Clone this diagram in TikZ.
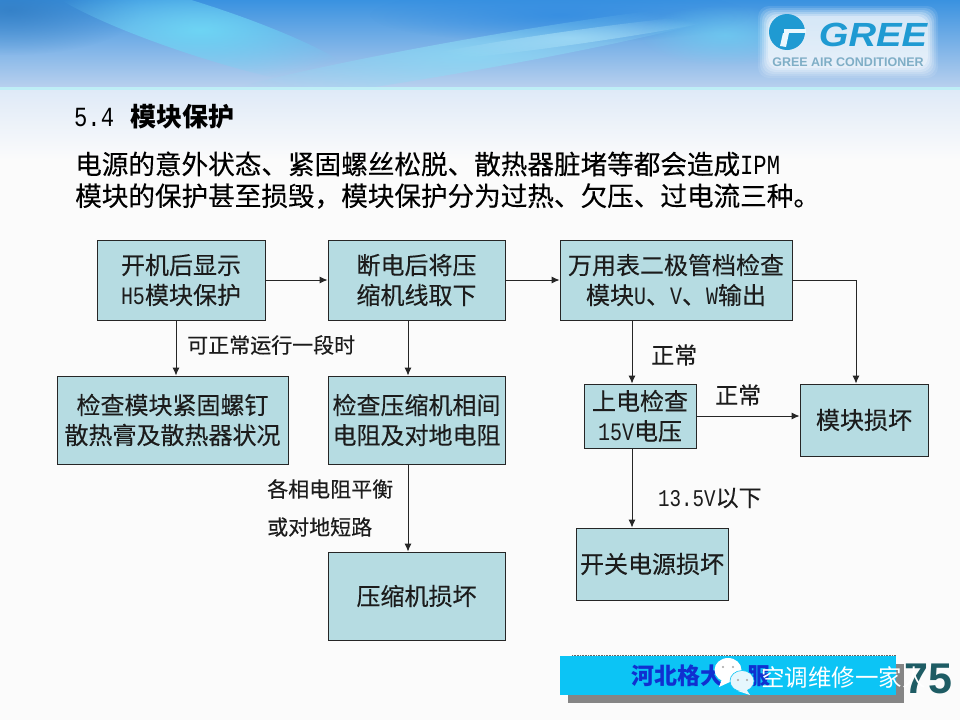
\documentclass[tikz,border=0pt]{standalone}
\usepackage{graphicx}
\usepackage{fontspec}
\setmainfont[FakeBold=0.25]{Noto Sans CJK SC}
\newfontfamily\plainF{Noto Sans CJK SC}
\newfontfamily\monoL[Scale=0.833]{Liberation Mono}
\newfontfamily\arialF{Liberation Sans}
\newcommand{\lat}[1]{\scalebox{1}[1.25]{\monoL #1}}
\usetikzlibrary{arrows.meta,fadings,calc}
\tikzfading[name=softball,inner color=transparent!0,outer color=transparent!100]
\definecolor{boxfill}{HTML}{B6DCE2}
\definecolor{inkc}{HTML}{1C1C1C}
\definecolor{greeblue}{HTML}{1F9AD2}
\definecolor{greegray}{HTML}{7FAEC6}
\definecolor{bannerc}{HTML}{0CC4F5}
\definecolor{sky}{RGB}{58,146,224}
\definecolor{skyb}{RGB}{184,208,238}
\definecolor{skyd}{RGB}{46,120,190}
\definecolor{swa}{RGB}{110,215,245}
\definecolor{swb}{RGB}{140,220,245}
\definecolor{swc}{RGB}{170,225,248}
\definecolor{swe}{RGB}{50,140,225}
\definecolor{lineb}{RGB}{190,238,246}
\definecolor{bluetxt}{RGB}{16,48,208}
\definecolor{numc}{RGB}{30,92,100}
\tikzset{
  x=1pt,y=-1pt,
  flowbox/.style={draw=black!85,line width=0.8pt,fill=boxfill,text=inkc,inner sep=0pt,align=center,font=\fontsize{24}{30}\selectfont},
  arr/.style={draw=black!85,line width=1pt,-{Latex[length=8pt,width=7pt]}},
  lab/.style={anchor=west,inner sep=0pt,text=inkc},
  small/.style={lab,font=\fontsize{21}{25}\selectfont},
  mid/.style={lab,font=\fontsize{23}{28}\selectfont},
  head/.style={anchor=west,inner sep=0pt,text=black,font=\fontsize{26.6}{32}\selectfont},
  swoosh/.style={path fading=softball,fill=#1},
}
\begin{document}
\begin{tikzpicture}
\useasboundingbox (0,0) rectangle (960,720);
% page background
\fill[white!97!gray] (0,0) rectangle (960,720);
\shade[top color=skyb!45,bottom color=white!97!gray] (0,90) rectangle (960,160);
% header band
\shade[top color=sky,bottom color=skyb] (0,0) rectangle (960,87);
\begin{scope}
\clip (0,0) rectangle (960,87);
\fill[swoosh=skyd,opacity=0.7] (10,10) ellipse (130 and 45);
\fill[swoosh=swe,opacity=0.8] (560,15) ellipse (190 and 28);
\fill[swoosh=swa,opacity=0.95,rotate around={-18:(200,30)}] (200,30) ellipse (170 and 26);
\fill[swoosh=swb,opacity=0.75,rotate around={10:(470,55)}] (470,55) ellipse (280 and 16);
\fill[swoosh=swc,opacity=0.7,rotate around={8:(570,38)}] (570,38) ellipse (160 and 7);
\fill[swoosh=swa,opacity=0.6] (725,35) ellipse (85 and 30);
\end{scope}
\fill[lineb] (0,87) rectangle (960,90);
% logo glow
\foreach \g/\op in {0/0.10,2/0.14,4/0.18,6/0.22,8/0.28,10/0.35}{
  \fill[white,opacity=\op,rounded corners=11pt] (758+\g,6+\g) rectangle (938-\g,78-\g);
}
\fill[greeblue] (787,32) circle (18);
\fill[white!92!cyan] (784,29) rectangle (806,33);
\fill[white!92!cyan] (783,33) -- (789,33) -- (786,47) -- (780,46) -- cycle;
\node (gree) [anchor=center,inner sep=0pt,text=greeblue,font=\arialF\bfseries\itshape\fontsize{33.5}{34}\selectfont] at (873,35) {\scalebox{1.14}[1]{GREE}};
\node (greesub) [anchor=center,inner sep=0pt,text=greegray,font=\arialF\bfseries\fontsize{12.5}{14}\selectfont] at (848,62) {GREE AIR CONDITIONER};
% heading
\node (title) [head] at (74,117) {\makebox[56pt][l]{\lat{5.4}}{\plainF\bfseries\fontsize{26}{32}\selectfont 模块保护}};
\node (para1) [head] at (75,164) {电源的意外状态、紧固螺丝松脱、散热器脏堵等都会造成\lat{IPM}};
\node (para2) [head] at (75,196) {模块的保护甚至损毁，模块保护分为过热、欠压、过电流三种。};
% flow boxes
\node (A) [flowbox,minimum width=168pt,minimum height=80pt] at (181,280) {开机后显示\\\lat{H5}模块保护};
\node (B) [flowbox,minimum width=177pt,minimum height=80pt] at (416.5,280) {断电后将压\\缩机线取下};
\node (C) [flowbox,minimum width=232pt,minimum height=80pt] at (676,280) {万用表二极管档检查\\模块\lat{U}、\lat{V}、\lat{W}输出};
\node (D) [flowbox,minimum width=231pt,minimum height=88pt] at (172.5,420) {检查模块紧固螺钉\\散热膏及散热器状况};
\node (E) [flowbox,minimum width=177pt,minimum height=88pt] at (416.5,420) {检查压缩机相间\\电阻及对地电阻};
\node (F) [flowbox,minimum width=112pt,minimum height=64pt] at (640,416) {上电检查\\\lat{15V}电压};
\node (G) [flowbox,minimum width=128pt,minimum height=72pt] at (864,420) {模块损坏};
\node (H) [flowbox,minimum width=177pt,minimum height=88pt] at (416.5,596) {压缩机损坏};
\node (I) [flowbox,minimum width=152pt,minimum height=72pt] at (652,564) {开关电源损坏};
% connectors
\draw[arr] (A.east) -- (B.west);
\draw[arr] (B.east) -- (C.west);
\draw[arr] (C.east) -| (G.north -| 856,0);
\draw[arr] (A.south -| 176,0) -- (D.north -| 176,0);
\draw[arr] (B.south -| 408,0) -- (E.north -| 408,0);
\draw[arr] (E.south -| 408,0) -- (H.north -| 408,0);
\draw[arr] (C.south -| 632,0) -- (F.north -| 632,0);
\draw[arr] (F.east) -- (G.west |- F.east);
\draw[arr] (F.south -| 632,0) -- (I.north -| 632,0);
% labels
\node (l1) [small] at (187,345) {可正常运行一段时};
\node (l2) [mid] at (651,355) {正常};
\node (l3) [mid] at (715,395) {正常};
\node (l4) [mid] at (658,498) {\lat{13.5V}以下};
\node (l5) [small] at (267,489) {各相电阻平衡};
\node (l6) [small] at (267,527) {或对地短路};
% footer banner
\fill[black!48] (568,664) rectangle (904,703);
\fill[bannerc] (560,656) rectangle (896,695);
\draw[black!60,densely dotted,line width=0.6pt] (572,655.5) -- (896,655.5);
\node (bn) [anchor=west,inner sep=0pt,text=bluetxt,font=\plainF\bfseries\fontsize{23}{28}\selectfont] at (631,676) {河北格大};
\node (bn2) [anchor=west,inner sep=0pt,text=bluetxt,font=\plainF\bfseries\fontsize{23}{28}\selectfont] at (747,676) {服};
\node (num) [anchor=center,inner sep=0pt,text=numc,font=\arialF\bfseries\fontsize{43}{43}\selectfont] at (928,679) {75};
% wechat watermark
\fill[white] (728,670) ellipse (13.5 and 12);
\fill[white] (722,679) -- (719,687) -- (732,681) -- cycle;
\fill[white!90!cyan,draw=bannerc,line width=0.6pt] (742,681) ellipse (12 and 10.5);
\fill[white!90!cyan] (746,689) -- (750,695) -- (738,691) -- cycle;
\foreach \px/\py in {723/667,733/667}{\fill[gray!70] (\px,\py) circle (1.2);}
\foreach \px/\py in {738/680,747/680}{\fill[gray!70] (\px,\py) circle (1.2);}
\node (wm) [anchor=west,inner sep=0pt,text=white,font=\plainF\fontsize{23.5}{28}\selectfont] at (761,677) {空调维修一家人};
\end{tikzpicture}
\end{document}
